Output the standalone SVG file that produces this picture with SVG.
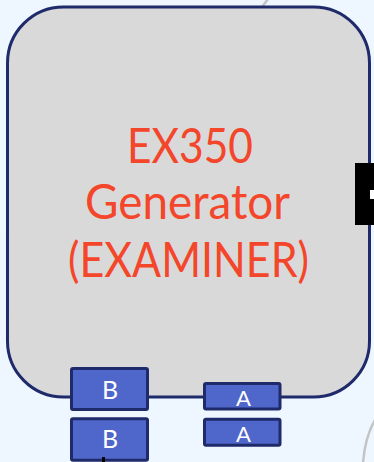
<svg xmlns="http://www.w3.org/2000/svg" width="374" height="462" viewBox="0 0 374 462">
<style>
.bg{fill:#eef7ff}
.main{fill:#d9d9d9;stroke:#1f2a6a;stroke-width:3}
.port{fill:#4f67ca;stroke:#1f2a6a;stroke-width:3}
.title{font-family:Lato,"Open Sans",sans-serif;font-size:48px;fill:#f4462a;text-anchor:middle}
.pl{font-family:Lato,"Open Sans",sans-serif;fill:#ffffff;text-anchor:middle}
.gray{fill:none;stroke:#c4c4c4;stroke-width:2.5}
</style>
<rect class="bg" x="0" y="0" width="374" height="462"/>
<g id="connectors">
<path class="gray" d="M262 7 L268 -1"/>
<path class="gray" d="M363 463 Q365 436 376 418"/>
</g>
<g id="generator">
<rect class="main" x="7.5" y="7" width="362" height="390" rx="56" ry="56"/>
<text class="title" x="190" y="162.5" textLength="126" lengthAdjust="spacingAndGlyphs">EX350</text>
<text class="title" x="187.5" y="219" textLength="205" lengthAdjust="spacingAndGlyphs">Generator</text>
<text class="title" x="188.5" y="276.5" textLength="241" lengthAdjust="spacingAndGlyphs">(EXAMINER)</text>
</g>
<g id="right-port">
<rect x="355" y="163" width="19" height="62" fill="#000000"/>
<rect x="370" y="190" width="4" height="9" fill="#ffffff"/>
</g>
<g id="port-b1">
<rect class="port" x="71.5" y="368.5" width="76" height="41" rx="1.5"/>
<text class="pl" x="110" y="399.3" font-size="25">B</text>
</g>
<g id="port-b2">
<rect class="port" x="71.5" y="418.8" width="76" height="41.5" rx="1.5"/>
<text class="pl" x="110" y="448.2" font-size="25">B</text>
</g>
<g id="port-a1">
<rect class="port" x="204.5" y="383.5" width="75.5" height="25.5" rx="1.5"/>
<text class="pl" x="243.5" y="406" font-size="22">A</text>
</g>
<g id="port-a2">
<rect class="port" x="204.5" y="419.2" width="75.5" height="26" rx="1.5"/>
<text class="pl" x="243.5" y="441.7" font-size="22">A</text>
</g>
<g id="stub">
<line x1="103.5" y1="457" x2="103.5" y2="462" stroke="#000000" stroke-width="3"/>
</g>
</svg>
